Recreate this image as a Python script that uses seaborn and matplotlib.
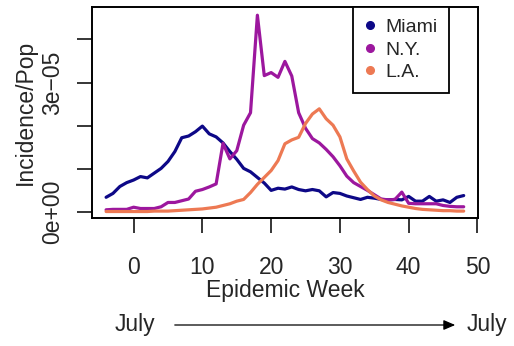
import numpy as np
import pandas as pd
import matplotlib
matplotlib.use("Agg")
import matplotlib.pyplot as plt
from matplotlib.lines import Line2D
from matplotlib.patches import FancyArrowPatch
import seaborn as sns

# Weekly incidence per population (values in units of 1e-5)
weeks = list(range(-4, 49))
miami = [0.34, 0.43, 0.59, 0.68, 0.74, 0.82, 0.79, 0.90, 1.01, 1.17, 1.40, 1.72, 1.76,
         1.86, 1.99, 1.81, 1.74, 1.60, 1.40, 1.22, 1.01, 0.93, 0.80, 0.67, 0.50, 0.55,
         0.53, 0.58, 0.52, 0.49, 0.52, 0.49, 0.35, 0.45, 0.43, 0.37, 0.33, 0.29, 0.34,
         0.32, 0.29, 0.28, 0.29, 0.28, 0.36, 0.25, 0.25, 0.36, 0.25, 0.28, 0.22, 0.34, 0.38]
new_york = [0.05, 0.06, 0.06, 0.06, 0.11, 0.08, 0.08, 0.08, 0.12, 0.22, 0.22, 0.26, 0.30,
            0.48, 0.52, 0.58, 0.65, 1.59, 1.23, 1.42, 2.01, 2.30, 4.56, 3.16, 3.23, 3.12,
            3.49, 3.15, 2.30, 1.94, 1.70, 1.60, 1.45, 1.28, 1.07, 0.83, 0.68, 0.59, 0.50,
            0.40, 0.30, 0.28, 0.29, 0.46, 0.20, 0.19, 0.19, 0.19, 0.19, 0.15, 0.13, 0.12, 0.12]
los_angeles = [0.01, 0.01, 0.01, 0.01, 0.01, 0.01, 0.01, 0.02, 0.02, 0.02, 0.03, 0.04, 0.05,
               0.06, 0.07, 0.09, 0.11, 0.15, 0.19, 0.25, 0.29, 0.45, 0.64, 0.80, 0.96, 1.19,
               1.58, 1.67, 1.73, 2.05, 2.27, 2.39, 2.16, 2.01, 1.74, 1.23, 0.95, 0.69, 0.52,
               0.37, 0.28, 0.22, 0.18, 0.14, 0.11, 0.08, 0.06, 0.05, 0.04, 0.03, 0.03, 0.02, 0.02]
cities = ["Miami", "N.Y.", "L.A."]
colors = ["#0D0887", "#9C179E", "#ED7953"]
x_ticks = [0, 10, 20, 30, 40, 50]
y_ticks = [0, 1e-5, 2e-5, 3e-5, 4e-5]
y_tick_labels = ["0e+00", "", "", "3e\u221205", ""]

df = pd.DataFrame({
    "week": weeks * 3,
    "incidence": np.array(miami + new_york + los_angeles) * 1e-5,
    "city": np.repeat(cities, len(weeks)),
})

sns.set_style("white")
plt.rcParams["font.family"] = ["Liberation Sans", "DejaVu Sans"]
fs = 16.5

fig = plt.figure(figsize=(5.14, 3.46), dpi=100)
ax = fig.add_axes([92 / 514, 1 - 218 / 346, (478 - 92) / 514, (218 - 7) / 346])

sns.lineplot(data=df, x="week", y="incidence", hue="city", hue_order=cities,
             palette=colors, linewidth=2.3, legend=False, ax=ax)

ax.set_xlim(-6.05, 50.08)
ax.set_ylim(-0.14e-5, 4.75e-5)
ax.set_xticks(x_ticks)
ax.set_yticks(y_ticks)
ax.set_xticklabels([str(t) for t in x_ticks], fontsize=fs)
ax.set_yticklabels(y_tick_labels, fontsize=fs, rotation=90, va="center")
ax.tick_params(axis="both", direction="out", length=10.5, width=1.1, color="black",
               left=True, bottom=True)
ax.tick_params(axis="y", pad=9.5)
ax.tick_params(axis="x", pad=17)
for sp in ax.spines.values():
    sp.set_visible(True)
    sp.set_color("black")
    sp.set_linewidth(1.4)

ax.set_xlabel("Epidemic Week", fontsize=fs, labelpad=0)
ax.set_ylabel("Incidence/Pop", fontsize=fs, labelpad=3)

handles = [Line2D([], [], marker="o", linestyle="none", color=c, markersize=5.5) for c in colors]
leg = ax.legend(handles, cities, loc="upper right", bbox_to_anchor=(449 / 386 - 92 / 386, 1.0),
                frameon=True, fancybox=False, framealpha=1, edgecolor="black",
                fontsize=14, borderaxespad=0, handletextpad=0.46, labelspacing=0.25,
                borderpad=0.6, handlelength=0.6)
leg.get_frame().set_linewidth(1.3)

# Seasonal span annotation below the axis
fig.text(135 / 514, 1 - 325 / 346, "July", fontsize=fs, ha="center", va="center")
fig.text(487 / 514, 1 - 325 / 346, "July", fontsize=fs, ha="center", va="center")
fig.add_artist(FancyArrowPatch(
    (172 / 514, 1 - 325 / 346), (458 / 514, 1 - 325 / 346),
    transform=fig.transFigure, arrowstyle="-|>,head_length=7,head_width=3",
    color="black", linewidth=0.9, mutation_scale=1))

fig.savefig("out.png", dpi=100)
